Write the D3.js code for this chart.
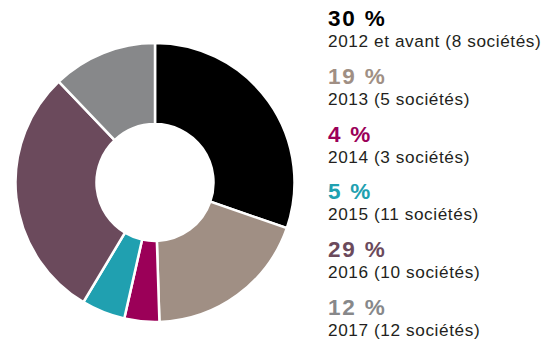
<!DOCTYPE html>
<html>
<head>
<meta charset="utf-8">
<script src="https://cdn.jsdelivr.net/npm/d3@7"></script>
<style>
  html, body { margin: 0; padding: 0; background: #ffffff; }
  svg { display: block; }
  .entry { font-family: "Liberation Sans", Arial, sans-serif; }
  .pct { font-weight: 700; }
  .lbl { font-weight: 400; fill: #231f20; }
</style>
</head>
<body>
<svg id="chart" width="550" height="344"></svg>
<script>
// Répartition des sociétés par année
const categories = ["2012 et avant", "2013", "2014", "2015", "2016", "2017"];
const shares = [30, 19, 4, 5, 29, 12];
const companies = [8, 5, 3, 11, 10, 12];
const colors = ["#000000", "#a08f84", "#9b0058", "#20a0b0", "#6b4a5c", "#87888a"];

const svg = d3.select("#chart");

// Donut
const cx = 155, cy = 182.5, outerR = 139.5, innerR = 58.5;
const color = d3.scaleOrdinal().domain(categories).range(colors);

const pie = d3.pie().sort(null).value((d, i) => shares[i]);
const arcs = pie(categories);
const arc = d3.arc().innerRadius(innerR).outerRadius(outerR);

svg.append("g")
  .attr("transform", `translate(${cx},${cy})`)
  .selectAll("path")
  .data(arcs)
  .join("path")
  .attr("d", arc)
  .attr("fill", d => color(d.data))
  .attr("stroke", "#ffffff")
  .attr("stroke-width", 2.5)
  .attr("stroke-linejoin", "miter");

// Légende : pourcentage en gras, puis l'année et le nombre de sociétés
const legendX = 328;
const rowY = d3.scalePoint().domain(categories).range([26, 315]);

const entries = svg.append("g")
  .selectAll("text")
  .data(categories)
  .join("text")
  .attr("class", "entry")
  .attr("x", legendX)
  .attr("y", d => rowY(d));

entries.append("tspan")
  .attr("class", "pct")
  .attr("x", legendX)
  .attr("font-size", 22.5)
  .attr("letter-spacing", 1.8)
  .attr("fill", d => color(d))
  .text((d, i) => `${shares[i]} %`);

entries.append("tspan")
  .attr("class", "lbl")
  .attr("x", legendX)
  .attr("dy", 21)
  .attr("font-size", 17.2)
  .attr("letter-spacing", 0.6)
  .text((d, i) => `${d} (${companies[i]} sociétés)`);
</script>
</body>
</html>
